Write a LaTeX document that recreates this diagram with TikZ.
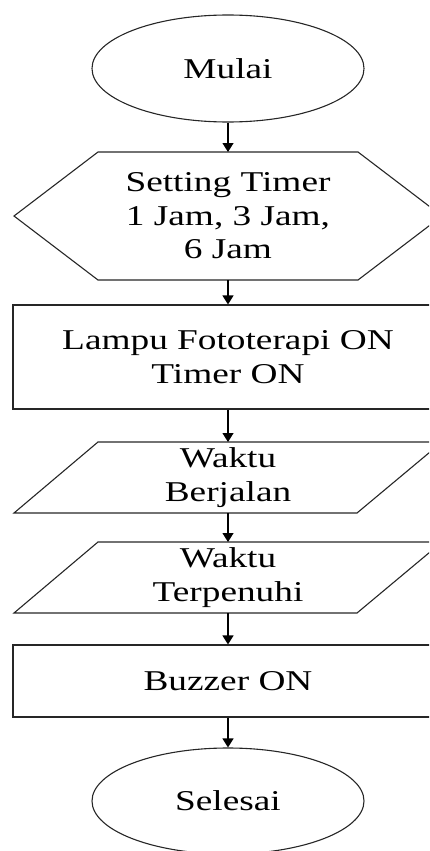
\documentclass[tikz,border=0pt]{standalone}
\usepackage{fontspec}
\setmainfont{Liberation Serif}[FakeStretch=1.3]
\usetikzlibrary{arrows.meta,shapes.geometric}

\begin{document}
\begin{tikzpicture}[x=1pt,y=-1pt,
  outline/.style={draw=black!85,line width=1.1pt},
  label/.style={align=center,inner sep=0pt,font=\fontsize{28.7}{33.5}\selectfont},
  terminal/.style={outline,ellipse,minimum width=272pt,minimum height=107pt,inner sep=0pt,
    font=\fontsize{28.7}{33.5}\selectfont},
  process/.style={outline,rectangle,minimum width=430pt,inner sep=0pt,align=center,
    font=\fontsize{28.7}{33.5}\selectfont},
  flow/.style={draw=black,line width=1.2pt,-{Triangle[width=11pt,length=9pt]}}]
\useasboundingbox (0,0) rectangle (429,851);
\clip (0,0) rectangle (429,851);

% start terminal
\node[terminal] (mulai) at (228,68.5) {Mulai};

% preparation (hexagon): timer setting
\draw[outline] (14,216) -- (98,152) -- (358,152) -- (442,216) -- (358,280) -- (98,280) -- cycle;
\coordinate (setT) at (228,152);
\coordinate (setB) at (228,280);
\node[label] (setting) at (228,216) {Setting Timer\\1 Jam, 3 Jam,\\6 Jam};

% process: lamp and timer on
\node[process,minimum height=104pt] (lampu) at (228,357) {Lampu Fototerapi ON\\Timer ON};

% data: time running
\draw[outline] (14,513) -- (98,442) -- (442,442) -- (357,513) -- cycle;
\coordinate (jalanT) at (228,442);
\coordinate (jalanB) at (228,513);
\node[label] (jalan) at (228,477.5) {Waktu\\Berjalan};

% data: time elapsed
\draw[outline] (14,613) -- (98,542) -- (442,542) -- (357,613) -- cycle;
\coordinate (penuhT) at (228,542);
\coordinate (penuhB) at (228,613);
\node[label] (penuh) at (228,577.5) {Waktu\\Terpenuhi};

% process: buzzer
\node[process,minimum height=72pt] (buzzer) at (228,681) {Buzzer ON};

% end terminal
\node[terminal,minimum height=106pt] (selesai) at (228,801) {Selesai};

% connectors
\draw[flow] (mulai.south) -- (setT);
\draw[flow] (setB) -- (lampu.north);
\draw[flow] (lampu.south) -- (jalanT);
\draw[flow] (jalanB) -- (penuhT);
\draw[flow] (penuhB) -- (buzzer.north);
\draw[flow] (buzzer.south) -- (selesai.north);
\end{tikzpicture}
\end{document}
